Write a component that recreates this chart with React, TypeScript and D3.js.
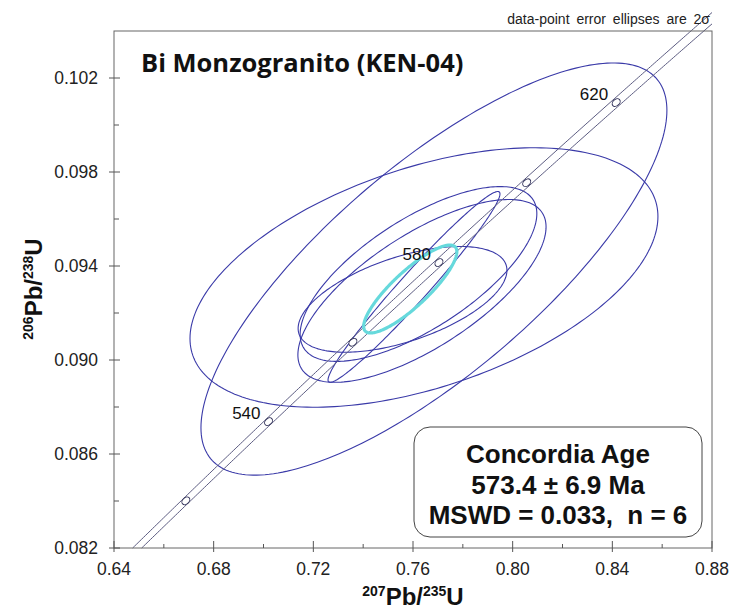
import React from 'react';
import * as d3 from 'd3';

const W = 732;
const H = 610;

// axis ticks
const X_TICKS = [0.64, 0.68, 0.72, 0.76, 0.8, 0.84, 0.88];
const X_MINOR = [0.66, 0.7, 0.74, 0.78, 0.82, 0.86];
const Y_TICKS = [0.082, 0.086, 0.09, 0.094, 0.098, 0.102];
const Y_MINOR = [0.084, 0.088, 0.092, 0.096, 0.1];

// concordia age markers (Ma)
const AGES = [520, 540, 560, 580, 600, 620];
const LABELED_AGES = [540, 580, 620];

// data-point error ellipses (2 sigma)
const PB207_U235 = [0.7684, 0.7644, 0.7604, 0.7622, 0.7636, 0.7558];
const ERR_207 = [0.0935, 0.0939, 0.0345, 0.0475, 0.0498, 0.0419];
const PB206_U238 = [0.09387, 0.09351, 0.09311, 0.09366, 0.09294, 0.09258];
const ERR_206 = [0.00877, 0.00552, 0.00406, 0.00372, 0.00389, 0.00225];
const RHO = [0.77, 0.47, 0.975, 0.69, 0.7, 0.55];

// concordia age ellipse
const AGE_ELLIPSE = [0.7589, 0.0187, 0.09302, 0.00187, 0.85];

const TITLE = 'Bi Monzogranito (KEN-04)';
const NOTE = 'data-point error ellipses are 2\u03c3';
const BOX_LINES = ['Concordia Age', '573.4 \u00b1 6.9 Ma', 'MSWD = 0.033,  n = 6'];

const L235 = 9.8485e-10;
const L238 = 1.55125e-10;
const EPS = 0.0022;

const FONT = "'Liberation Sans', Arial, sans-serif";

export default function App() {
  const x = d3.scaleLinear().domain([0.64, 0.88]).range([114, 712]);
  const y = d3.scaleLinear().domain([0.082, 0.104]).range([548, 31]);

  const line = d3
    .line<[number, number]>()
    .x((d) => x(d[0]))
    .y((d) => y(d[1]));
  const closed = d3
    .line<[number, number]>()
    .x((d) => x(d[0]))
    .y((d) => y(d[1]))
    .curve(d3.curveLinearClosed);

  const ellipsePts = (cx: number, ex: number, cy: number, ey: number, rho: number) => {
    const pts: [number, number][] = [];
    const s = Math.sqrt(1 - rho * rho);
    for (let i = 0; i < 240; i++) {
      const t = (i / 240) * Math.PI * 2;
      pts.push([cx + ex * Math.cos(t), cy + ey * (rho * Math.cos(t) + s * Math.sin(t))]);
    }
    return pts;
  };

  // concordia band lines
  const tMin = Math.log(1.082) / L238;
  const bandLine = (k: number) => {
    const l5 = L235 * (1 + k * EPS);
    const tMax = Math.log(1.88) / l5;
    const pts: [number, number][] = [];
    const n = 300;
    for (let i = 0; i <= n; i++) {
      const t = tMin + ((tMax - tMin) * i) / n;
      pts.push([Math.exp(l5 * t) - 1, Math.exp(L238 * t) - 1]);
    }
    return pts;
  };

  const conc = (ma: number) => {
    const t = ma * 1e6;
    return [Math.exp(L235 * t) - 1, Math.exp(L238 * t) - 1];
  };

  const ellipseColor = '#3a3aa8';

  return (
    <svg
      width={W}
      height={H}
      style={{ position: 'absolute', left: 0, top: 0, display: 'block', background: '#fff' }}
      fontFamily={FONT}
    >
      <defs>
        <clipPath id="plotClip">
          <rect x={114} y={31} width={598} height={517} />
        </clipPath>
      </defs>

      {/* data ellipses */}
      <g clipPath="url(#plotClip)">
        {PB207_U235.map((cx, i) => (
          <path
            key={i}
            d={closed(ellipsePts(cx, ERR_207[i], PB206_U238[i], ERR_206[i], RHO[i])) || ''}
            fill="none"
            stroke={ellipseColor}
            strokeWidth={1.1}
          />
        ))}
      </g>

      {/* concordia band */}
      {[-1, 1].map((k) => (
        <path key={k} d={line(bandLine(k)) || ''} fill="none" stroke="#5a5a80" strokeWidth={1} />
      ))}

      {/* concordia age ellipse */}
      <path
        d={closed(ellipsePts(AGE_ELLIPSE[0], AGE_ELLIPSE[1], AGE_ELLIPSE[2], AGE_ELLIPSE[3], AGE_ELLIPSE[4])) || ''}
        fill="none"
        stroke="#66d9dc"
        strokeWidth={3.2}
      />

      {/* age markers */}
      {AGES.map((a) => {
        const [cx, cy] = conc(a);
        const [ax, ay] = conc(a - 2);
        const [bx, by] = conc(a + 2);
        const ang = (Math.atan2(y(by) - y(ay), x(bx) - x(ax)) * 180) / Math.PI;
        return (
          <ellipse
            key={a}
            cx={0}
            cy={0}
            rx={4.5}
            ry={3.2}
            transform={`translate(${x(cx)},${y(cy)}) rotate(${ang})`}
            fill="#fff"
            stroke="#33335a"
            strokeWidth={1}
          />
        );
      })}
      {LABELED_AGES.map((a) => {
        const [cx, cy] = conc(a);
        return (
          <text key={a} x={x(cx) - 8} y={y(cy) - 3} textAnchor="end" fontSize={17} fill="#111">
            {a}
          </text>
        );
      })}

      {/* frame */}
      <rect x={114} y={31} width={598} height={517} fill="none" stroke="#666" strokeWidth={1} />

      {/* x ticks */}
      {X_TICKS.map((v) => (
        <g key={v}>
          <line x1={x(v)} x2={x(v)} y1={541} y2={552} stroke="#555" />
          <text x={x(v)} y={575} textAnchor="middle" fontSize={17.5} fill="#222">
            {d3.format('.2f')(v)}
          </text>
        </g>
      ))}
      {X_MINOR.map((v) => (
        <line key={v} x1={x(v)} x2={x(v)} y1={544} y2={548} stroke="#555" />
      ))}

      {/* y ticks */}
      {Y_TICKS.map((v) => (
        <g key={v}>
          <line x1={109} x2={120} y1={y(v)} y2={y(v)} stroke="#555" />
          <text x={98} y={y(v) + 6} textAnchor="end" fontSize={17.5} fill="#222">
            {d3.format('.3f')(v)}
          </text>
        </g>
      ))}
      {Y_MINOR.map((v) => (
        <line key={v} x1={114} x2={119} y1={y(v)} y2={y(v)} stroke="#555" />
      ))}

      {/* axis titles */}
      <text x={413} y={605} textAnchor="middle" fontWeight="bold" fill="#111">
        <tspan fontSize={14} dy={-9}>207</tspan>
        <tspan fontSize={24} dy={9}>Pb/</tspan>
        <tspan fontSize={14} dy={-9}>235</tspan>
        <tspan fontSize={24} dy={9}>U</tspan>
      </text>
      <text transform="translate(42,289) rotate(-90)" textAnchor="middle" fontWeight="bold" fill="#111">
        <tspan fontSize={14} dy={-9}>206</tspan>
        <tspan fontSize={24} dy={9}>Pb/</tspan>
        <tspan fontSize={14} dy={-9}>238</tspan>
        <tspan fontSize={24} dy={9}>U</tspan>
      </text>

      {/* title & note */}
      <text x={141} y={72} fontFamily="'Open Sans', 'Noto Sans', sans-serif" fontWeight="bold" fontSize={25.5} fill="#111">
        {TITLE}
      </text>
      <text x={710} y={24} textAnchor="end" fontSize={14} wordSpacing={3} fill="#222">
        {NOTE}
      </text>

      {/* result box */}
      <rect x={414} y={427} width={288} height={110} rx={16} ry={16} fill="#fff" stroke="#444" strokeWidth={1} />
      {BOX_LINES.map((s, i) => (
        <text
          key={i}
          x={558}
          y={463 + i * 30.5}
          textAnchor="middle"
          fontWeight="bold"
          fontSize={26}
          fill="#111"
          style={{ whiteSpace: 'pre' }}
        >
          {s}
        </text>
      ))}
    </svg>
  );
}
